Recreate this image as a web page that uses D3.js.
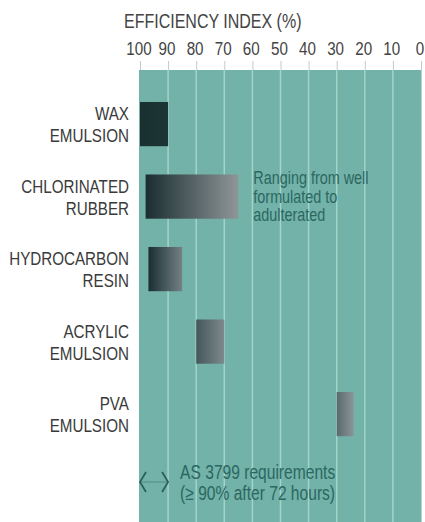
<!DOCTYPE html>
<html>
<head>
<meta charset="utf-8">
<script src="https://cdn.jsdelivr.net/npm/d3@7"></script>
<style>
  html, body { margin: 0; padding: 0; background: #ffffff; }
  svg { display: block; }
  text { font-family: "Liberation Sans", Arial, sans-serif; }
</style>
</head>
<body>
<svg id="chart" width="425" height="522"></svg>
<script>
// Efficiency index of curing compounds (%), each shown as a range
const categoryLines = [
  ["WAX", "EMULSION"],
  ["CHLORINATED", "RUBBER"],
  ["HYDROCARBON", "RESIN"],
  ["ACRYLIC", "EMULSION"],
  ["PVA", "EMULSION"]
];
const rangeHigh = [100, 98, 97, 80, 30];
const rangeLow  = [90, 65, 85, 70, 24];
const tickValues = [100, 90, 80, 70, 60, 50, 40, 30, 20, 10, 0];
const requirement = [100, 90];   // AS 3799: at least 90 %
const noteLines = ["Ranging from well", "formulated to", "adulterated"];
const requirementLines = ["AS 3799 requirements", "(\u2265 90% after 72 hours)"];

// gradient end colours for each bar (left, right)
const barColours = [
  ["#19302f", "#1e3537"],
  ["#1a2d31", "#8f9698"],
  ["#1a2f33", "#748185"],
  ["#45575c", "#7d898c"],
  ["#5a696e", "#8a9598"]
];

const W = 425, H = 522;
const plotTop = 70;
const NARROW = 0.8;            // horizontal squeeze for the condensed lettering
const svg = d3.select("#chart");

const x = d3.scaleLinear().domain([100, 0]).range([140, 421]);
const categories = categoryLines.map(d => d.join(" "));
const y = d3.scaleBand().domain(categories)
  .range([73.7, 464.5]).paddingInner(0.39).paddingOuter(0.39);

// condensed multi-line text block anchored at x0
function textBlock(parent, x0, lines, yOf, opts) {
  const t = parent.append("text")
    .attr("transform", `translate(${x0},0) scale(${NARROW},1)`)
    .attr("text-anchor", opts.anchor || "start")
    .attr("font-size", opts.size)
    .attr("fill", opts.fill);
  t.selectAll("tspan").data(lines).join("tspan")
    .attr("x", 0).attr("y", (l, j) => yOf(j)).text(l => l);
  return t;
}

// gradients
const defs = svg.append("defs");
barColours.forEach((c, i) => {
  const g = defs.append("linearGradient").attr("id", "bar" + i)
    .attr("x1", "0%").attr("x2", "100%").attr("y1", "0%").attr("y2", "0%");
  g.append("stop").attr("offset", "0%").attr("stop-color", c[0]);
  g.append("stop").attr("offset", "100%").attr("stop-color", c[1]);
});

// plot background
svg.append("rect")
  .attr("x", x(100) - 1).attr("y", plotTop)
  .attr("width", x(0) - x(100) + 1.5).attr("height", H - plotTop)
  .attr("fill", "#72b2a8");

// vertical grid
svg.append("g").selectAll("line")
  .data(tickValues.filter(v => v !== 100 && v !== 0))
  .join("line")
  .attr("x1", d => x(d)).attr("x2", d => x(d))
  .attr("y1", plotTop).attr("y2", H)
  .attr("stroke", "#a3d4ca").attr("stroke-width", 1.5);

// top axis
const axis = d3.axisTop(x).tickValues(tickValues).tickSize(9).tickPadding(6)
  .tickFormat(d3.format("d"));
const ag = svg.append("g").attr("transform", `translate(0,${plotTop})`).call(axis);
ag.select(".domain").remove();
ag.selectAll(".tick line").attr("stroke", "#c8c8c8").attr("stroke-width", 1);
ag.selectAll(".tick text")
  .attr("fill", "#444").attr("font-size", 19).attr("dx", -2)
  .attr("transform", `scale(${NARROW},1)`)
  .style("font-family", '"Liberation Sans", Arial, sans-serif');

// axis title
textBlock(svg, 124, ["EFFICIENCY INDEX (%)"], () => 28, { size: 20, fill: "#444" });

// bars
svg.append("g").selectAll("rect")
  .data(categories)
  .join("rect")
  .attr("x", (d, i) => x(rangeHigh[i]))
  .attr("width", (d, i) => x(rangeLow[i]) - x(rangeHigh[i]))
  .attr("y", d => y(d))
  .attr("height", y.bandwidth())
  .attr("fill", (d, i) => `url(#bar${i})`);

// category labels
const lg = svg.append("g");
categoryLines.forEach((lines, i) => {
  const cy = y(categories[i]) + y.bandwidth() / 2;
  textBlock(lg, 129, lines, j => cy + (j === 0 ? -11 : 11) + 7,
    { anchor: "end", size: 19, fill: "#3a3a3a" });
});

// note beside the chlorinated rubber range
const cr = categories[1];
textBlock(svg, x(rangeLow[1]) + 15, noteLines, j => y(cr) + 10 + j * 18.5,
  { size: 18, fill: "#2c6762" });

// requirement marker and caption
const ry = 482;
const xa = x(requirement[0]), xb = x(requirement[1]);
const mark = svg.append("g").attr("fill", "none").attr("stroke", "#2a5e5a")
  .attr("stroke-width", 1.7);
mark.append("path").attr("d", `M${xa + 6},${ry - 10} L${xa},${ry} L${xa + 6},${ry + 10}`);
mark.append("path").attr("d", `M${xb - 6},${ry - 10} L${xb},${ry} L${xb - 6},${ry + 10}`);
mark.append("line").attr("x1", xa).attr("x2", xb).attr("y1", ry).attr("y2", ry)
  .attr("stroke-width", 0.8).attr("stroke-opacity", 0.6);

textBlock(svg, xb + 12, requirementLines, j => ry - 3 + j * 21,
  { size: 19.5, fill: "#2c6762" });
</script>
</body>
</html>
